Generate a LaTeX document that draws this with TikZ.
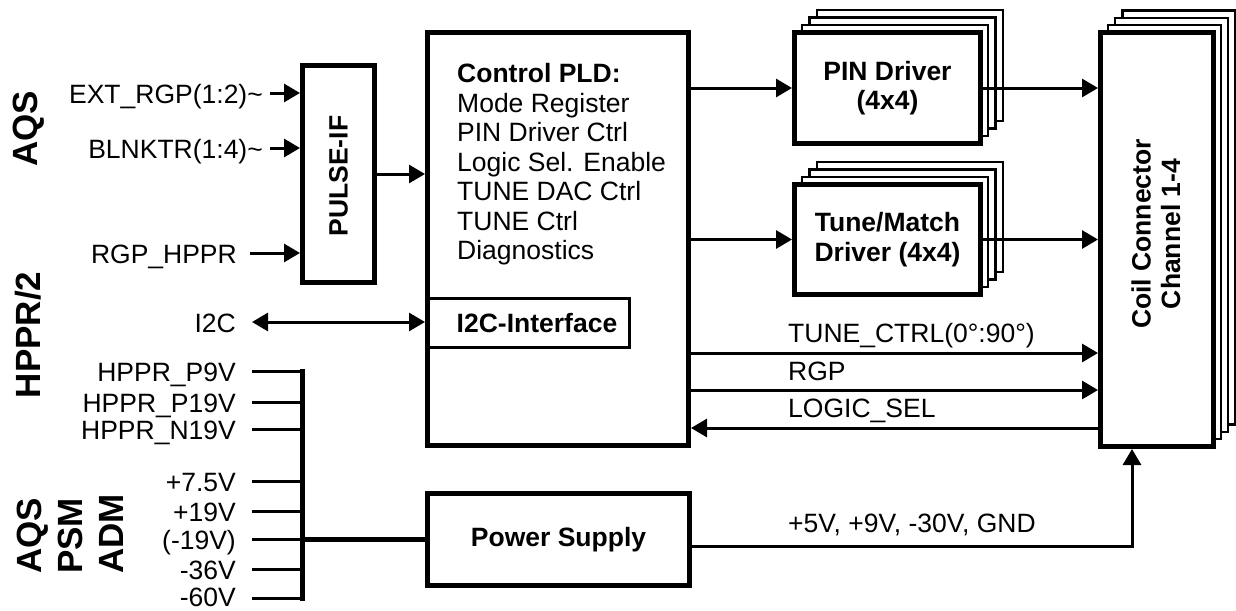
\documentclass[tikz,border=0pt]{standalone}
\usepackage{fontspec}
\setmainfont{Liberation Sans}
\usetikzlibrary{arrows.meta,calc}
\begin{document}
\begin{tikzpicture}[x=1pt,y=-1pt,
  lbl/.style={font=\fontsize{26.5}{29.5}\selectfont, inner sep=0pt},
  blbl/.style={font=\fontsize{26.5}{29.5}\selectfont\bfseries, inner sep=0pt},
  big/.style={font=\fontsize{35}{41}\selectfont\bfseries, inner sep=0pt},
  thickbox/.style={draw, line width=5pt, fill=white, inner sep=0pt},
  backbox/.style={draw, line width=2.5pt, fill=white, inner sep=0pt},
  arr/.style={line width=3pt, -{Triangle[length=16pt,width=18pt]}},
  arrtwo/.style={line width=3pt, {Triangle[length=16pt,width=18pt]}-{Triangle[length=16pt,width=18pt]}},
  wire/.style={line width=3pt},
  busline/.style={line width=5pt},
]
\useasboundingbox (0,0) rectangle (1236,610);

% ---- boxes ----
\node[thickbox, minimum width=72pt, minimum height=217pt] (pulse) at (338.5,174) {};
\node[blbl, rotate=90] (pulset) at (338.5,176) {PULSE-IF};

\node[thickbox, minimum width=261pt, minimum height=413pt] (pld) at (558,239) {};
\node[lbl, align=left, anchor=north west] (pldt) at (457,63.5)
  {\textbf{Control PLD:}\\Mode Register\\PIN Driver Ctrl\\Logic Sel. Enable\\TUNE DAC Ctrl\\TUNE Ctrl\\Diagnostics};
\node[draw, line width=3pt, fill=white, inner sep=0pt, minimum width=201pt, minimum height=49pt] (i2c) at (529,323) {};
\node[blbl] (i2ct) at (537,323) {I2C-Interface};

\foreach \k in {3,2,1} {
  \node[backbox, minimum width=186pt, minimum height=111pt] (pinb\k) at ({887.5+7.5*\k},{88-7.5*\k}) {};
}
\node[thickbox, blbl, align=center, minimum width=186pt, minimum height=111pt] (pin) at (887.5,88) {PIN Driver\\(4x4)};

\foreach \k in {3,2,1} {
  \node[backbox, minimum width=186pt, minimum height=110pt] (tuneb\k) at ({887.5+7.5*\k},{239.5-7.5*\k}) {};
}
\node[thickbox, blbl, align=center, minimum width=186pt, minimum height=110pt] (tune) at (887.5,239.5) {Tune/Match\\Driver (4x4)};

\foreach \k in {3,2,1} {
  \node[backbox, minimum width=113pt, minimum height=414pt] (coilb\k) at ({1157+7.3*\k},{239.5-7.3*\k}) {};
}
\node[thickbox, minimum width=113pt, minimum height=414pt] (coil) at (1157,239.5) {};
\node[blbl, rotate=90, align=center] (coilt) at (1156,234) {Coil Connector\\Channel 1-4};

\node[thickbox, blbl, minimum width=262pt, minimum height=92pt] (power) at (558.5,539.5) {Power Supply};

% ---- side group labels ----
\node[big, rotate=90] (aqsa) at (29,129) {AQS};
\node[big, rotate=90] (hppr) at (28.5,335) {HPPR/2};
\node[big, rotate=90, align=left] (aqsb) at (70,534) {AQS\\PSM\\ADM};

% ---- pulse inputs ----
\node[lbl, anchor=base east] (ext) at (263,103) {EXT\_RGP(1:2)\textasciitilde};
\node[lbl, anchor=base east] (blk) at (263,158) {BLNKTR(1:4)\textasciitilde};
\node[lbl, anchor=base east] (rgph) at (237,263) {RGP\_HPPR};
\coordinate (e1) at (270,93);
\coordinate (e2) at (270,148);
\coordinate (e3) at (250,253);
\draw[arr] (e1) -- (e1 -| pulse.west);
\draw[arr] (e2) -- (e2 -| pulse.west);
\draw[arr] (e3) -- (e3 -| pulse.west);
\draw[arr] (pulse.east) -- (pulse.east -| pld.west);

% ---- I2C ----
\node[lbl, anchor=base east] (i2cl) at (236,332) {I2C};
\coordinate (i1) at (252,322);
\draw[arrtwo] (i1) -- (i1 -| pld.west);

% ---- supply bus ----
\coordinate (bustop) at (302,368.5);
\coordinate (busbot) at (302,600.5);
\draw[busline] (bustop) -- (busbot);
\node[lbl, anchor=base east] (s1) at (236,381) {HPPR\_P9V};
\node[lbl, anchor=base east] (s2) at (236,412) {HPPR\_P19V};
\node[lbl, anchor=base east] (s3) at (236,439) {HPPR\_N19V};
\node[lbl, anchor=base east] (s4) at (236,491) {+7.5V};
\node[lbl, anchor=base east] (s5) at (236,521) {+19V};
\node[lbl, anchor=base east] (s6) at (236,549) {(-19V)};
\node[lbl, anchor=base east] (s7) at (236,579) {-36V};
\node[lbl, anchor=base east] (s8) at (236,606) {-60V};
\coordinate (t1) at (252,371);
\coordinate (t2) at (252,402);
\coordinate (t3) at (252,429);
\coordinate (t4) at (252,481);
\coordinate (t5) at (252,511);
\coordinate (t6) at (252,539);
\coordinate (t7) at (252,569);
\coordinate (t8) at (252,598);
\foreach \t in {t1,t2,t3,t4,t5,t6,t7,t8} {
  \draw[wire] (\t) -- (\t -| bustop);
}
\coordinate (busp) at (302,539);
\draw[busline] (busp) -- (busp -| power.west);

% ---- PLD outputs ----
\draw[arr] (pin.west -| pld.east) -- (pin.west);
\draw[arr] (tune.west -| pld.east) -- (tune.west);
\draw[arr] (pin.east) -- (pin.east -| coil.west);
\draw[arr] (tune.east) -- (tune.east -| coil.west);

\coordinate (ytc) at (700,353);
\coordinate (yrg) at (700,390);
\coordinate (yls) at (700,428);
\draw[arr] (ytc -| pld.east) -- (ytc -| coil.west);
\draw[arr] (yrg -| pld.east) -- (yrg -| coil.west);
\draw[arr] (yls -| coil.west) -- (yls -| pld.east);
\node[lbl, anchor=base west] (ltc) at (788,342.5) {TUNE\_CTRL(0°:90°)};
\node[lbl, anchor=base west] (lrg) at (788,380) {RGP};
\node[lbl, anchor=base west] (lls) at (788,417.5) {LOGIC\_SEL};

% ---- power out ----
\coordinate (ps) at (700,546);
\coordinate (cx) at (1132,449);
\draw[arr] (ps -| power.east) -| (cx |- coil.south);
\node[lbl, anchor=base west] (lpw) at (788,532) {+5V, +9V, -30V, GND};
\end{tikzpicture}
\end{document}
